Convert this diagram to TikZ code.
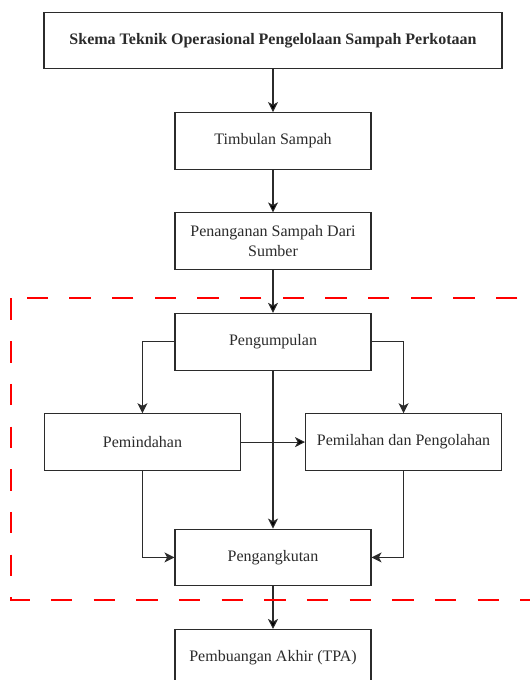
\documentclass[tikz,border=0pt]{standalone}
\usepackage{fontspec}
\setmainfont{Liberation Serif}
\usetikzlibrary{positioning,arrows.meta}
\definecolor{garis}{HTML}{2B2B2B}
\definecolor{merah}{HTML}{FF0000}

\begin{document}
\begin{tikzpicture}[x=0.75pt,y=-0.75pt,>={Stealth[length=7.5pt,width=7.5pt,inset=2pt]},line width=0.8pt,node distance=32pt,
kotak/.style={draw=garis,fill=white,text=garis,minimum width=147pt,minimum height=42.5pt,align=center,inner sep=2pt,font=\fontsize{12pt}{15pt}\selectfont},
batas/.style={draw=merah,line width=1.5pt,dash pattern=on 16pt off 16pt}]
\useasboundingbox (0,0) rectangle (529,680);
\node[kotak,minimum width=343.5pt,font=\bfseries\fontsize{12pt}{15pt}\selectfont] (judul) at (273,40.5) {Skema Teknik Operasional Pengelolaan Sampah Perkotaan};
\node[kotak] (timbul) [below=of judul] {Timbulan Sampah};
\node[kotak] (tangan) [below=of timbul] {Penanganan Sampah Dari\\Sumber};
\node[kotak] (kumpul) [below=of tangan] {Pengumpulan};
\node[kotak] (pindah) [below=of kumpul,xshift=-97.9pt] {Pemindahan};
\node[kotak] (pilah) [below=of kumpul,xshift=97.9pt] {Pemilahan dan Pengolahan};
\node[kotak] (angkut) [below=43.2pt of pindah,xshift=97.9pt] {Pengangkutan};
\node[kotak] (buang) [below=of angkut] {Pembuangan Akhir (TPA)};

\path[->,draw=garis] (judul) edge (timbul)
(timbul) edge (tangan)
(tangan) edge (kumpul)
(kumpul) edge (angkut)
(pindah) edge (pilah)
(angkut) edge (buang);
\draw[->,garis] (kumpul) -| (pindah);
\draw[->,garis] (kumpul) -| (pilah);
\draw[->,garis] (pindah) |- (angkut);
\draw[->,garis] (pilah) |- (angkut);

% area pengumpulan sampai pengangkutan
\draw[batas] (11,298.5) rectangle (560,600);
\end{tikzpicture}
\end{document}
